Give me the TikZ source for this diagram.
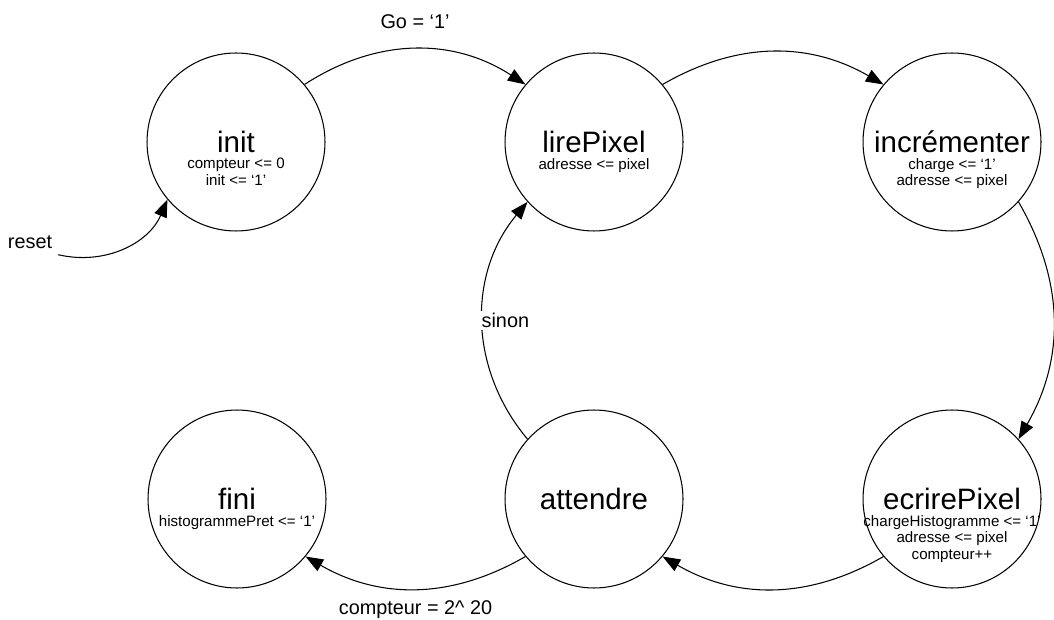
\documentclass[tikz,border=0pt]{standalone}
\usepackage{fontspec}
\setmainfont{Liberation Sans}
\usetikzlibrary{positioning, arrows.meta}

\begin{document}
\begin{tikzpicture}[x=0.02cm, y=0.02cm,
    etat/.style={circle, draw=black, line width=0.6pt, minimum size=3.56cm, inner sep=0pt, font=\fontsize{16.8}{18}\selectfont},
    detail/.style={align=center, inner sep=0pt, font=\fontsize{8.6}{9.6}\selectfont},
    trans/.style={line width=0.6pt, -{Triangle[length=10pt, width=7.5pt]}},
    lbl/.style={font=\fontsize{11.3}{13}\selectfont}]

\useasboundingbox (0,0) rectangle (1054,619);

% states
\node[etat] (init) at (236,477) {init};
\node[etat] (lirePixel) at (594,477) {lirePixel};
\node[etat] (incrementer) at (952,477) {incrémenter};
\node[etat] (ecrirePixel) at (952,120) {ecrirePixel};
\node[etat] (attendre) at (594,120) {attendre};
\node[etat] (fini) at (237,120) {fini};

% outputs of each state
\node[detail, anchor=north] (initD) at ([yshift=-9pt]init.center) {compteur <= 0\\init <= ‘1’};
\node[detail, anchor=north] (lirePixelD) at ([yshift=-9pt]lirePixel.center) {adresse <= pixel};
\node[detail, anchor=north] (incrementerD) at ([yshift=-9pt]incrementer.center) {charge <= ‘1’\\adresse <= pixel};
\node[detail, anchor=north] (ecrirePixelD) at ([yshift=-9pt]ecrirePixel.center) {chargeHistogramme <= ‘1’\\adresse <= pixel\\compteur++};
\node[detail, anchor=north] (finiD) at ([yshift=-9pt]fini.center) {histogrammePret <= ‘1’};

% reset
\node[lbl] (reset) at (30,377) {reset};
\draw[trans] (reset.south east) to [bend right=40] (init.220);

% transitions
\draw[trans] (init.40) to [bend left=33] node[lbl, midway, above=8pt] (go) {Go = ‘1’} (lirePixel.140);
\draw[trans] (lirePixel.40) to [bend left=30] (incrementer.140);
\draw[trans] (incrementer.-42) to [bend left=30] (ecrirePixel.42);
\draw[trans] (ecrirePixel.220) to [bend left=30] (attendre.-40);
\draw[trans] (attendre.220) to [bend left=30] node[lbl, midway, below=3pt] (fin) {compteur = 2\textasciicircum{} 20} (fini.-40);
\draw[trans] (attendre.138) to [bend left=40] node[lbl, midway, anchor=west, fill=white, inner sep=1pt, xshift=-2pt] (sinon) {sinon} (lirePixel.222);

\end{tikzpicture}
\end{document}
